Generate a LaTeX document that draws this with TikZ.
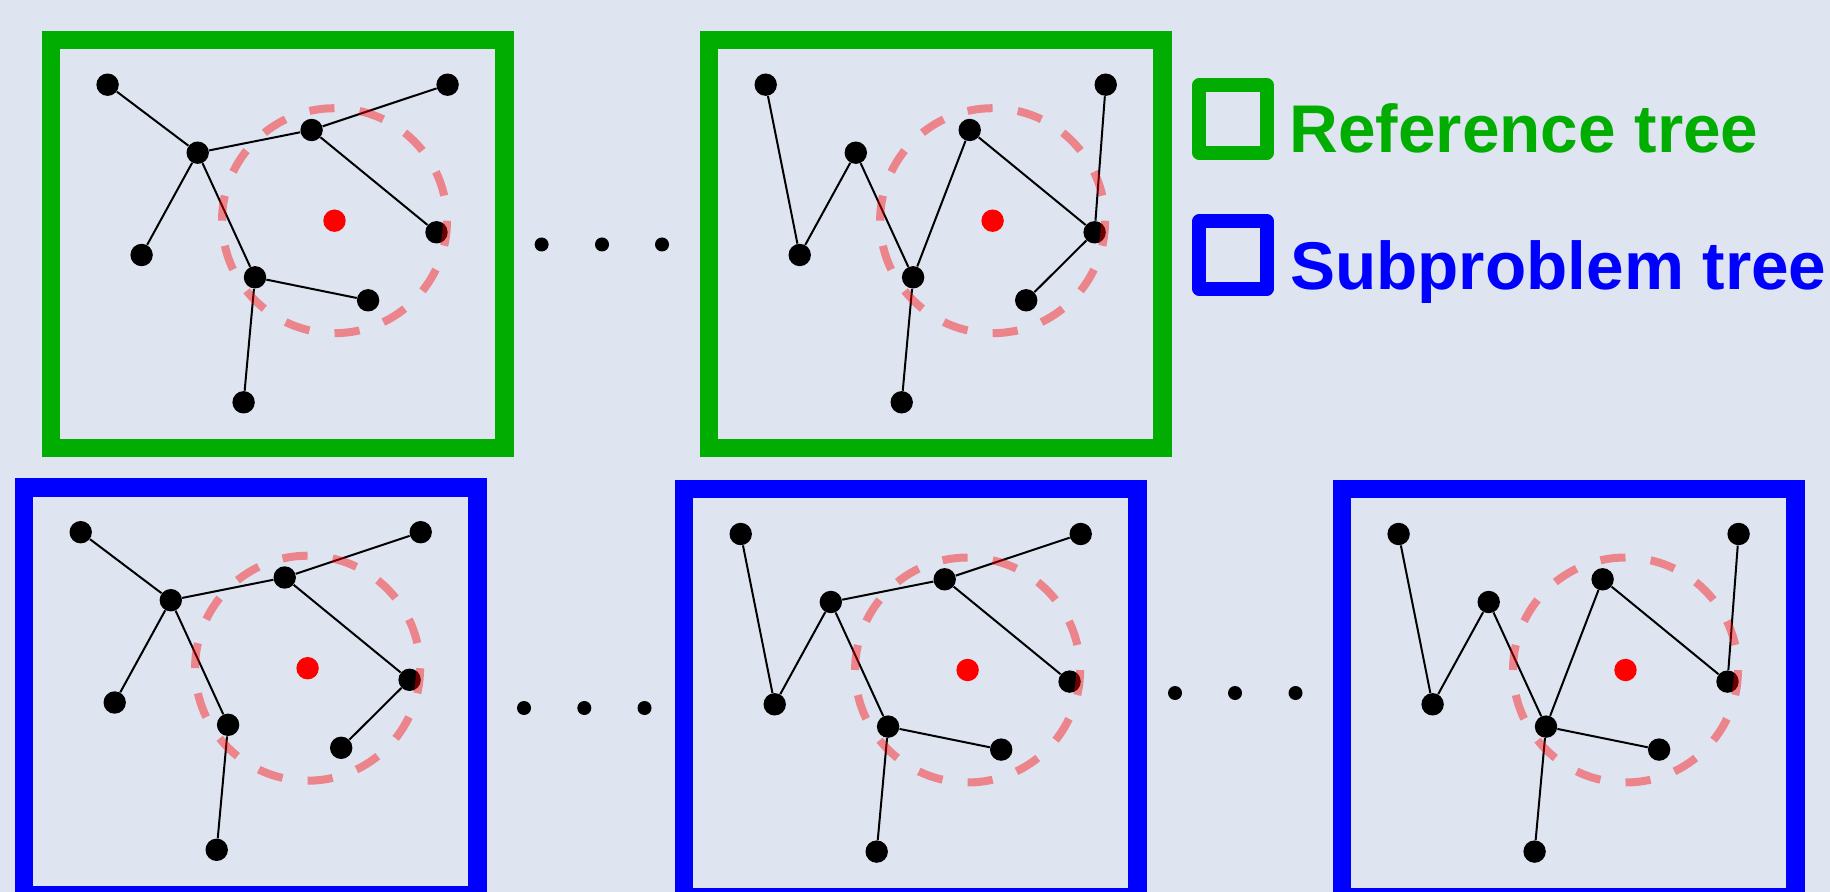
\documentclass[tikz,border=0pt]{standalone}
\usepackage{fontspec}
\setmainfont{Liberation Sans}
\definecolor{bgc}{RGB}{222,228,240}
\definecolor{refgreen}{RGB}{0,173,0}
\definecolor{subblue}{RGB}{0,0,255}
\tikzset{
  vtx/.style={circle,fill=black,inner sep=0pt,minimum size=11.2pt},
  centre/.style={circle,fill=red,inner sep=0pt,minimum size=11.2pt},
  edge/.style={line width=1pt},
  ring/.style={draw=red,draw opacity=0.42,line width=4pt,
    dash pattern=on 12.6pt off 12.645pt,dash phase=12.6pt},
  frame/.style={line width=9.25pt},
  dotsym/.style={circle,fill=black,inner sep=0pt,minimum size=7pt},
  keybox/.style={line width=6.85pt,line join=round},
  keytext/.style={anchor=base west,inner sep=0pt,
    font=\fontsize{33.75}{40}\selectfont\bfseries}
}
% frame plus the nine vertices and the red centre of one tree panel
\newcommand{\treepanel}[4]{%
  \begin{scope}[shift={(#2,#3)}]
    \draw[frame,draw=#4] (0,0) rectangle (453.7,408);
    \node[vtx] (#1A) at (56.8,44.9) {};
    \node[vtx] (#1H) at (146.9,112.9) {};
    \node[vtx] (#1N) at (260.8,90.2) {};
    \node[vtx] (#1T) at (396.8,44.9) {};
    \node[vtx] (#1L) at (90.8,215.2) {};
    \node[vtx] (#1M) at (204.2,237.5) {};
    \node[vtx] (#1R) at (385.7,192.5) {};
    \node[vtx] (#1S) at (317.3,260.5) {};
    \node[vtx] (#1B) at (192.8,362.5) {};
    \node[centre] (#1c) at (283.7,180.9) {};
  \end{scope}}
\begin{document}
\begin{tikzpicture}[x=0.5pt,y=-0.5pt]
  \fill[bgc] (0,0) rectangle (1830,892);
  \useasboundingbox (0,0) rectangle (1830,892);

  % panels
  \treepanel{ga}{50.8}{39.8}{refgreen}
  \treepanel{gb}{708.9}{39.8}{refgreen}
  \treepanel{ba}{23.9}{487.3}{subblue}
  \treepanel{bb}{683.9}{489.1}{subblue}
  \treepanel{bc}{1341.8}{489.1}{subblue}

  % reference tree 1
  \draw[edge] (gaA) -- (gaH) (gaH) -- (gaN) (gaN) -- (gaT) (gaN) -- (gaR)
              (gaH) -- (gaL) (gaH) -- (gaM) (gaM) -- (gaS) (gaM) -- (gaB);
  % reference tree 2
  \draw[edge] (gbA) -- (gbL) (gbL) -- (gbH) (gbH) -- (gbM) (gbM) -- (gbN)
              (gbN) -- (gbR) (gbR) -- (gbT) (gbR) -- (gbS) (gbM) -- (gbB);
  % subproblem tree 1
  \draw[edge] (baA) -- (baH) (baH) -- (baN) (baN) -- (baT) (baN) -- (baR)
              (baR) -- (baS) (baH) -- (baL) (baH) -- (baM) (baM) -- (baB);
  % subproblem tree 2
  \draw[edge] (bbA) -- (bbL) (bbL) -- (bbH) (bbH) -- (bbN) (bbN) -- (bbT)
              (bbN) -- (bbR) (bbH) -- (bbM) (bbM) -- (bbS) (bbM) -- (bbB);
  % subproblem tree 3
  \draw[edge] (bcA) -- (bcL) (bcL) -- (bcH) (bcH) -- (bcM) (bcM) -- (bcN)
              (bcN) -- (bcR) (bcR) -- (bcT) (bcM) -- (bcS) (bcM) -- (bcB);

  % dashed neighbourhoods around the centres
  \foreach \p in {ga,gb,ba,bb,bc}
    \draw[ring] (\p c.center) circle[radius=56.25pt];

  % ellipses between panels
  \node[dotsym] (ea1) at (541.6,244.5) {};
  \node[dotsym] (ea2) at (602,244.5) {};
  \node[dotsym] (ea3) at (662,244.5) {};
  \node[dotsym] (eb1) at (524,708) {};
  \node[dotsym] (eb2) at (584.3,708) {};
  \node[dotsym] (eb3) at (644.5,708) {};
  \node[dotsym] (ec1) at (1175,693) {};
  \node[dotsym] (ec2) at (1235,693) {};
  \node[dotsym] (ec3) at (1295.5,693) {};

  % legend
  \draw[keybox,draw=refgreen] (1199.3,85.2) rectangle (1266.8,152.7);
  \draw[keybox,draw=subblue] (1199.3,221.2) rectangle (1266.8,288.7);
  \node[keytext,text=refgreen] (reftxt) at (1289.2,153) {Reference tree};
  \node[keytext,text=subblue] (subtxt) at (1289.8,289.3) {Subproblem tree};
\end{tikzpicture}
\end{document}
